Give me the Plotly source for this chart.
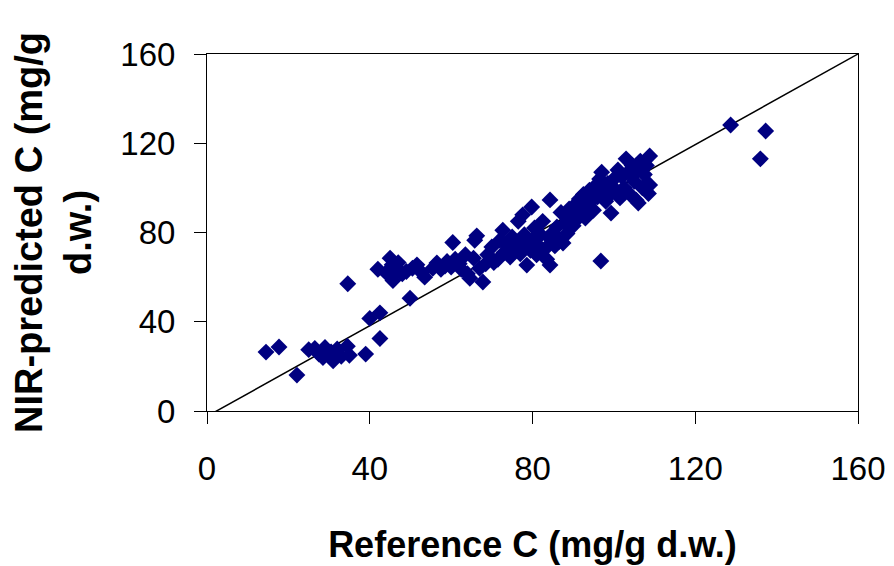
import plotly.graph_objects as go

# reference vs NIR-predicted values
ref_c = [14.5, 17.7, 22.1, 25.0, 26.5, 27.5, 28.5, 29.0, 30.5, 31.0, 32.0, 33.0, 34.5, 35.0, 39.0,
         34.6, 40.0, 42.5, 42.5,
         42.0, 44.0, 45.0, 45.5, 45.7, 46.5, 47.0, 48.0, 49.0, 49.9, 50.5, 51.6, 52.8, 53.5,
         55.5, 56.5, 57.5, 58.5, 59.0, 60.0, 60.4, 61.0, 62.0, 62.5, 63.5, 64.0, 64.6, 65.5, 65.8, 66.3, 67.8, 67.0,
         68.5, 69.0, 70.0, 70.5, 71.5, 72.0, 72.7, 73.0, 74.0, 74.5, 75.0, 75.5, 76.0, 76.5, 77.6, 77.0, 78.0, 78.6, 78.0,
         79.5, 79.8, 80.0, 80.5, 81.0, 81.5, 82.0, 82.5, 83.0, 83.5, 84.3, 84.3, 84.5, 85.0, 85.5, 86.0, 86.5, 87.0,
         87.5, 88.0, 88.5, 89.0, 89.5, 90.0,
         90.5, 91.0, 91.5, 92.0, 92.5, 93.0, 93.5, 94.0, 94.5, 95.0, 95.5, 96.0, 96.5, 96.8, 97.0, 97.5, 98.0, 98.5,
         99.0, 99.3, 100.0,
         100.5, 101.0, 101.5, 102.0, 102.5, 103.0, 103.5, 104.0, 104.5, 105.0, 105.5, 106.0, 106.0, 106.5, 107.0,
         107.5, 108.0, 108.8, 108.8, 108.5,
         128.7, 137.3, 136.0]
nir_c = [26.4, 28.7, 16.1, 27.5, 28.0, 25.5, 24.0, 28.5, 26.5, 22.5, 27.8, 24.5, 29.0, 25.0, 25.5,
         57.0, 41.5, 44.0, 32.5,
         63.5, 62.0, 68.5, 65.5, 58.5, 63.0, 66.5, 61.5, 62.5, 50.5, 64.0, 65.5, 62.0, 60.0,
         64.0, 66.3, 63.5, 65.0, 67.0, 64.5, 75.5, 68.0, 66.0, 63.5, 70.0, 61.5, 59.5, 68.5, 76.5, 78.5, 57.8, 64.0,
         66.0, 70.0, 73.5, 66.5, 68.0, 76.5, 81.0, 71.0, 74.0, 69.0, 78.0, 72.5, 75.5, 85.0, 87.9, 70.5, 74.0, 65.4, 79.0,
         72.0, 91.4, 76.5, 82.0, 70.0, 74.0, 79.0, 85.0, 72.5, 68.0, 94.6, 65.4, 77.0, 80.0, 74.0, 82.5, 76.0, 89.0,
         75.3, 84.0, 79.5, 90.5, 87.0, 83.0,
         92.5, 86.0, 95.0, 89.0, 97.0, 86.5, 92.0, 99.0, 94.0, 90.0, 101.0, 96.0, 104.0, 67.2, 107.0, 99.0, 94.0, 102.0,
         97.0, 88.7, 104.0,
         99.0, 108.0, 95.5, 105.0, 100.0, 113.0, 107.0, 97.0, 110.0, 103.0, 94.5, 93.2, 108.0, 112.0, 100.0,
         106.0, 110.0, 114.3, 101.3, 97.5,
         128.2, 125.5, 113.0]

# fitted line end points
fit_x = [-1.3, 160]
fit_y = [-3.7, 160]

x_ticks = [0, 40, 80, 120, 160]
y_ticks = [0, 40, 80, 120, 160]

FONT = "Liberation Sans, Arial, sans-serif"

fig = go.Figure()
fig.add_trace(go.Scatter(x=fit_x, y=fit_y, mode='lines', line=dict(color='black', width=1.5), showlegend=False))
fig.add_trace(go.Scatter(x=ref_c, y=nir_c, mode='markers', showlegend=False,
                         marker=dict(symbol='diamond', size=13, color='#000080', line=dict(width=0))))

# page body has an 8px margin, so the figure is a bit smaller than the window
fig.update_layout(
    width=886, height=558, showlegend=False,
    paper_bgcolor='white', plot_bgcolor='white',
    margin=dict(l=199, r=36, t=46, b=155),
    font=dict(family=FONT, color='black'),
)
fig.update_xaxes(range=[0, 160], tickvals=x_ticks, ticks='outside', ticklen=12, tickcolor='black',
                 showline=True, linecolor='black', linewidth=1, mirror=True, showgrid=False, zeroline=False,
                 tickfont=dict(size=33), ticklabelstandoff=16, automargin=False,
                 title=dict(text='<b>Reference C (mg/g d.w.)</b>', font=dict(size=36), standoff=46))
fig.update_yaxes(range=[0, 160], tickvals=y_ticks, ticks='outside', ticklen=12, tickcolor='black',
                 showline=True, linecolor='black', linewidth=1, mirror=True, showgrid=False, zeroline=False,
                 tickfont=dict(size=33), ticklabelstandoff=12, automargin=False,
                 title=dict(text='<b>NIR-predicted C (mg/g<br>d.w.)</b>', font=dict(size=38), standoff=18))

fig.write_html("out.html")
